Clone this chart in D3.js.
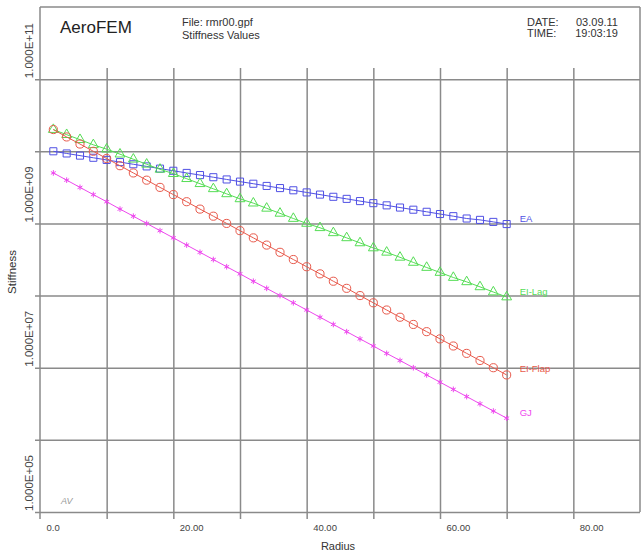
<!DOCTYPE html>
<html>
<head>
<meta charset="utf-8">
<script src="https://cdn.jsdelivr.net/npm/d3@7"></script>
<style>
  html, body { margin: 0; padding: 0; background: #fff; }
  svg { display: block; font-family: "Liberation Sans", Arial, sans-serif; }
</style>
</head>
<body>
<svg id="chart" width="641" height="556"></svg>
<script>
// ---------- DATA ----------
const radius = [2,4,6,8,10,12,14,16,18,20,22,24,26,28,30,32,34,36,38,40,42,44,46,48,50,52,54,56,58,60,62,64,66,68,70];

const EA = [1.00e10,9.33e9,8.71e9,8.13e9,7.59e9,7.08e9,6.61e9,6.17e9,5.75e9,5.37e9,5.01e9,4.68e9,4.37e9,4.07e9,3.80e9,3.55e9,3.31e9,3.09e9,2.88e9,2.69e9,2.51e9,2.34e9,2.19e9,2.04e9,1.91e9,1.78e9,1.66e9,1.55e9,1.45e9,1.35e9,1.26e9,1.17e9,1.12e9,1.05e9,9.8e8];

const EI_Lag = [2.00e10,1.70e10,1.45e10,1.23e10,1.07e10,9.12e9,7.76e9,6.61e9,5.62e9,4.90e9,4.17e9,3.55e9,3.02e9,2.57e9,2.19e9,1.91e9,1.62e9,1.38e9,1.17e9,1.00e9,8.71e8,7.41e8,6.31e8,5.37e8,4.57e8,3.98e8,3.39e8,2.88e8,2.45e8,2.09e8,1.78e8,1.55e8,1.32e8,1.12e8,9.55e7];

const EI_Flap = [2.00e10,1.58e10,1.26e10,1.00e10,7.94e9,6.31e9,5.01e9,3.98e9,3.16e9,2.51e9,2.00e9,1.58e9,1.26e9,1.00e9,7.94e8,6.31e8,5.01e8,3.98e8,3.16e8,2.51e8,2.00e8,1.58e8,1.26e8,1.00e8,7.94e7,6.31e7,5.01e7,3.98e7,3.16e7,2.51e7,2.00e7,1.58e7,1.26e7,1.00e7,7.94e6];

const GJ = [5.01e9,3.98e9,3.16e9,2.51e9,2.00e9,1.58e9,1.26e9,1.00e9,7.94e8,6.31e8,5.01e8,3.98e8,3.16e8,2.51e8,2.00e8,1.58e8,1.26e8,1.00e8,7.94e7,6.31e7,5.01e7,3.98e7,3.16e7,2.51e7,2.00e7,1.58e7,1.26e7,1.00e7,7.94e6,6.31e6,5.01e6,3.98e6,3.16e6,2.51e6,2.00e6];

const seriesNames = ["EA", "EI-Lag", "EI-Flap", "GJ"];
const xGridValues = [10,20,30,40,50,60,70,80];
const xTickLabels = ["0.0","20.00","40.00","60.00","80.00"];
const xLabelValues = [0,20,40,60,80];
const yGridValues = [1e5,1e6,1e7,1e8,1e9,1e10,1e11];
const yLabelValues = [1e5,1e7,1e9,1e11];
const yTickLabels = ["1.000E+05","1.000E+07","1.000E+09","1.000E+11"];

// ---------- LAYOUT ----------
const L = 40, R = 640, T = 7, B = 512;
const svg = d3.select("#chart");
const x = d3.scaleLinear().domain([0, 90]).range([L, R]);
const y = d3.scaleLog().domain([1e5, 1e12]).range([B, T]);
const gridColor = "#8a8a8a";
const gridW = 1.5;

// vertical grid (with stubs into header) via axis
const xg = svg.append("g").attr("transform", `translate(0,${B + 7})`)
  .call(d3.axisBottom(x).tickValues(xGridValues).tickSize(-(B + 7 - 68)).tickFormat(""));
xg.select(".domain").remove();
xg.selectAll("line").attr("stroke", gridColor).attr("stroke-width", gridW);

// horizontal grid via axis
const yg = svg.append("g").attr("transform", `translate(${L - 5},0)`)
  .call(d3.axisLeft(y).tickValues(yGridValues).tickSize(-(R - L + 5)).tickFormat(""));
yg.select(".domain").remove();
yg.selectAll("line").attr("stroke", gridColor).attr("stroke-width", gridW);

// frame
svg.append("line").attr("x1", L).attr("x2", L).attr("y1", T).attr("y2", B + 7).attr("stroke", gridColor).attr("stroke-width", gridW);
svg.append("line").attr("x1", R).attr("x2", R).attr("y1", T).attr("y2", B).attr("stroke", gridColor).attr("stroke-width", gridW);
svg.append("line").attr("x1", L).attr("x2", R).attr("y1", T).attr("y2", T).attr("stroke", gridColor).attr("stroke-width", gridW);

// x tick labels
const xl = svg.append("g").attr("transform", `translate(0,${B})`)
  .call(d3.axisBottom(x).tickValues(xLabelValues).tickSize(0)
    .tickFormat((d, i) => xTickLabels[i]));
xl.select(".domain").remove();
xl.selectAll("text").attr("text-anchor", "start").attr("dx", 6).attr("dy", 0).attr("y", 19)
  .attr("font-size", 9.5).attr("fill", "#444").attr("font-family", "Liberation Sans, Arial, sans-serif");

// y tick labels (rotated)
svg.append("g").selectAll("text").data(yLabelValues).join("text")
  .attr("transform", d => `translate(33,${y(d) - 1}) rotate(-90)`)
  .attr("text-anchor", "start")
  .attr("font-size", 11.5).attr("fill", "#444")
  .text((d, i) => yTickLabels[i]);

// axis titles
svg.append("text").attr("transform", `translate(16,272) rotate(-90)`).attr("text-anchor", "middle")
  .attr("font-size", 11.5).attr("fill", "#333").text("Stiffness");
svg.append("text").attr("x", 338).attr("y", 550).attr("text-anchor", "middle")
  .attr("font-size", 11).attr("fill", "#333").text("Radius");

// header
svg.append("text").attr("x", 60).attr("y", 33).attr("font-size", 17).attr("fill", "#222").text("AeroFEM");
svg.append("text").attr("x", 182).attr("y", 26).attr("font-size", 11).attr("fill", "#333").text("File: rmr00.gpf");
svg.append("text").attr("x", 182).attr("y", 38.5).attr("font-size", 11).attr("fill", "#333").text("Stiffness Values");
svg.append("text").attr("x", 527).attr("y", 26).attr("font-size", 11).attr("fill", "#333").text("DATE:");
svg.append("text").attr("x", 527).attr("y", 37).attr("font-size", 11).attr("fill", "#333").text("TIME:");
svg.append("text").attr("x", 618).attr("y", 26).attr("text-anchor", "end").attr("font-size", 11).attr("fill", "#333").text("03.09.11");
svg.append("text").attr("x", 618).attr("y", 37).attr("text-anchor", "end").attr("font-size", 11).attr("fill", "#333").text("19:03:19");
svg.append("text").attr("x", 61).attr("y", 504).attr("font-size", 9).attr("font-style", "italic").attr("fill", "#999").text("AV");

// ---------- SERIES ----------
const seriesData = [EA, EI_Lag, EI_Flap, GJ];
const colors = ["#5050e4", "#55dd55", "#e85a4c", "#ee48ee"];
const symbols = [d3.symbolSquare, d3.symbolTriangle, d3.symbolCircle, d3.symbolAsterisk];
const symSizes = [50, 42, 52, 22];

const line = d3.line().x(d => x(d[0])).y(d => y(d[1]));

seriesData.forEach((vals, si) => {
  const pts = radius.map((r, i) => [r, vals[i]]);
  const g = svg.append("g");
  g.append("path").datum(pts).attr("d", line).attr("fill", "none")
    .attr("stroke", colors[si]).attr("stroke-width", 1);
  g.selectAll("path.m").data(pts).join("path").attr("class", "m")
    .attr("transform", d => `translate(${x(d[0])},${y(d[1])})`)
    .attr("d", d3.symbol().type(symbols[si]).size(symSizes[si]))
    .attr("fill", "none").attr("stroke", colors[si]).attr("stroke-width", 1);
  const last = pts[pts.length - 1];
  g.append("text").attr("x", x(last[0]) + 13).attr("y", y(last[1]) - 5)
    .attr("dominant-baseline", "middle").attr("font-size", 9.5)
    .attr("fill", colors[si]).text(seriesNames[si]);
});
</script>
</body>
</html>
